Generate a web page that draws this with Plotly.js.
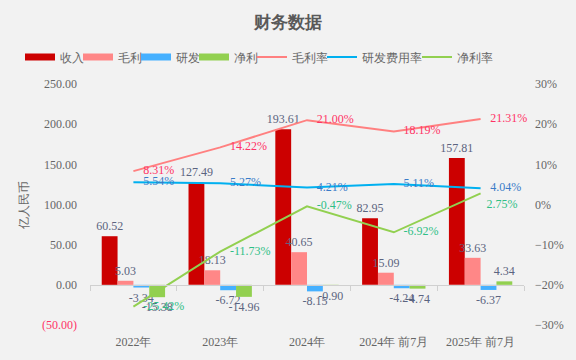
<!DOCTYPE html>
<html>
<head>
<meta charset="utf-8">
<script src="https://cdn.plot.ly/plotly-3.0.1.min.js"></script>
<style>
  html, body { margin: 0; padding: 0; background: #f2f2f2; }
  #chart { width: 576px; height: 360px; outline: 2px solid #d9d9d9; outline-offset: -2px; }
</style>
</head>
<body>
<div id="chart"></div>
<script>
const categories = ["2022年", "2023年", "2024年", "2024年 前7月", "2025年 前7月"];
const revenue = [60.52, 127.49, 193.61, 82.95, 157.81];
const grossProfit = [5.03, 18.13, 40.65, 15.09, 33.63];
const rnd = [-3.34, -6.72, -8.15, -4.24, -6.37];
const netProfit = [-15.38, -14.96, -0.90, -4.74, 4.34];
const grossMargin = [8.31, 14.22, 21.00, 18.19, 21.31];
const rndRate = [5.54, 5.27, 4.21, 5.11, 4.04];
const netMargin = [-25.42, -11.73, -0.47, -6.92, 2.75];
const leftTicks = [-50, 0, 50, 100, 150, 200, 250];
const rightTicks = [-30, -20, -10, 0, 10, 20, 30];

const FONT = "Liberation Serif";
const labelColor = "#5b6480";

function barTraces(name, y, color, legendId) {
  return [{
    type: "bar", name: name, x: categories, y: y,
    marker: { color: color }, showlegend: false,
    texttemplate: "%{y:.2f}", textposition: "outside", constraintext: "none",
    textfont: { family: FONT, size: 12, color: labelColor },
    cliponaxis: false, hoverinfo: "skip"
  }, {
    // legend swatch only (wide flat rectangle like the reference); no drawn data
    type: "scatter", mode: "lines", name: name, x: [categories[0]], y: [null],
    line: { color: color, width: 7 }, hoverinfo: "skip", legend: legendId
  }];
}
function lineTraces(name, y, color, textColor, legendId, sizes, positions) {
  return [{
    type: "scatter", mode: "lines", name: name, x: categories, y: y, yaxis: "y2",
    line: { color: color, width: 2 }, hoverinfo: "skip", legend: legendId
  }, {
    type: "scatter", mode: "markers+text", name: name, x: categories, y: y, yaxis: "y2",
    marker: { size: sizes || 14, opacity: 0, color: color }, showlegend: false,
    texttemplate: "%{y:.2f}%", textposition: positions || "middle right",
    textfont: { family: FONT, size: 12, color: textColor },
    cliponaxis: false, hoverinfo: "skip"
  }];
}

const traces = [
  ...barTraces("收入", revenue, "#cc0000", "legend"),
  ...barTraces("毛利", grossProfit, "#ff8787", "legend2"),
  ...barTraces("研发", rnd, "#45b0ff", "legend3"),
  ...barTraces("净利", netProfit, "#92d050", "legend4"),
  ...lineTraces("毛利率", grossMargin, "#ff8080", "#ff3366", "legend5"),
  ...lineTraces("研发费用率", rndRate, "#00b0f0", "#3a7cc8", "legend6"),
  ...lineTraces("净利率", netMargin, "#92d050", "#2fbf86", "legend7",
                [14, 14, 14, 14, 8],
                ["middle right", "middle right", "middle right", "middle right", "bottom right"]),
];

const leftText = leftTicks.map(v => v < 0
  ? '<span style="color:#ff3366">(' + Math.abs(v).toFixed(2) + ')</span>'
  : v.toFixed(2));
const rightText = rightTicks.map(v => (v < 0 ? "\u2212" + Math.abs(v) : v) + "%");

function legendAt(textStart) {
  return {
    orientation: "h", xref: "container", yref: "container", xanchor: "left",
    x: (textStart - 40) / 576, y: 1 - 57 / 360, yanchor: "middle",
    font: { family: FONT, size: 12, color: "#666666" }, itemwidth: 30,
    bgcolor: "rgba(0,0,0,0)", borderwidth: 0
  };
}

const layout = {
  width: 576, height: 360,
  paper_bgcolor: "#f2f2f2", plot_bgcolor: "#f2f2f2",
  margin: { l: 90, r: 52, t: 84, b: 35 },
  font: { family: FONT, size: 12, color: "#666666" },
  title: { text: "<b>财务数据</b>", x: 0.5, xanchor: "center", y: 1 - 22 / 360, yanchor: "middle",
           font: { family: FONT, size: 17, color: "#595959" } },
  showlegend: true,
  legend: legendAt(60), legend2: legendAt(118), legend3: legendAt(176), legend4: legendAt(234),
  legend5: legendAt(292), legend6: legendAt(362), legend7: legendAt(457),
  barmode: "group", bargap: 0.27, bargroupgap: 0,
  xaxis: { type: "category", range: [-0.5, 4.5], showline: false, ticks: "", showgrid: false,
           zeroline: false, ticklabelstandoff: 8,
           tickfont: { family: FONT, size: 12, color: "#666666" } },
  xaxis2: { overlaying: "x", anchor: "free", position: 50 / 300, range: [-0.5, 4.5],
            tickvals: [-0.5, 0.5, 1.5, 2.5, 3.5, 4.5], showticklabels: false,
            ticks: "outside", ticklen: 5, tickcolor: "#d0d0d0", showline: true, linecolor: "#d0d0d0",
            showgrid: false, zeroline: false },
  yaxis: { range: [-50, 250], tickvals: leftTicks, ticktext: leftText, showgrid: false,
           zeroline: false, showline: false, ticks: "", ticklabelstandoff: 12,
           tickfont: { family: FONT, size: 12, color: "#666666" },
           title: { text: "亿人民币", standoff: 10, font: { family: FONT, size: 12, color: "#666666" } } },
  yaxis2: { overlaying: "y", side: "right", range: [-30, 30], tickvals: rightTicks, ticktext: rightText,
            showgrid: false, zeroline: false, showline: false, ticks: "", ticklabelstandoff: 10,
            tickfont: { family: FONT, size: 12, color: "#666666" } }
};

// invisible trace to activate xaxis2 (zero line with boundary ticks)
traces.push({ type: "scatter", x: [], y: [], xaxis: "x2", showlegend: false, hoverinfo: "skip" });

Plotly.newPlot("chart", traces, layout, { displayModeBar: false, staticPlot: true });
</script>
</body>
</html>
